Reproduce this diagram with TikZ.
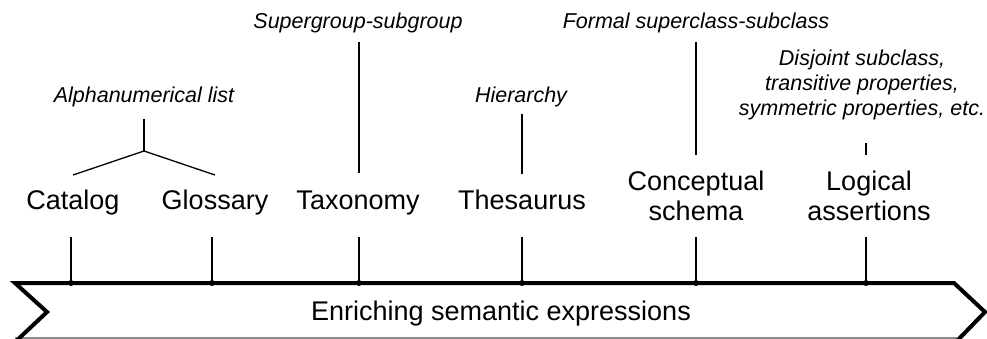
\documentclass[tikz,border=0pt]{standalone}
\usepackage{fontspec}
\setmainfont{Liberation Sans}
\begin{document}
\begin{tikzpicture}[x=1pt,y=-1pt,
  main/.style={font=\fontsize{27}{30}\selectfont, inner sep=0pt, anchor=base, align=center},
  note/.style={font=\fontsize{21.5}{25}\selectfont\itshape, inner sep=0pt, anchor=base, align=center},
  link/.style={line width=1.3pt, black},
  stemline/.style={line width=2pt, black},
  stemdot/.style={fill=black},
  band/.style={line width=4pt, black, line join=miter},
  bandbase/.style={line width=1.5pt, black!45}]
\useasboundingbox (0,0) rectangle (987,339);

% band
\draw[bandbase] (15,338) -- (957,338);
\draw[band] (13,344) -- (47,312) -- (15,283) -- (954,283) -- (985,312) -- (954,344);
\node[main] (band) at (501,320) {Enriching semantic expressions};

% main labels
\node[main] (catalog) at (73,209) {Catalog};
\node[main] (glossary) at (215,209) {Glossary};
\node[main] (taxonomy) at (358,209) {Taxonomy};
\node[main] (thesaurus) at (522,209) {Thesaurus};
\node[main] (concept) at (696,220) {Conceptual\\schema};
\node[main] (logical) at (869,220) {Logical\\assertions};

% notes
\node[note] (alpha) at (144,103) {Alphanumerical list};
\node[note] (super) at (358,29) {Supergroup-subgroup};
\node[note] (hier) at (521,103) {Hierarchy};
\node[note] (formal) at (696,29) {Formal superclass-subclass};
\node[note] (disj) at (862,116) {Disjoint subclass,\\transitive properties,\\symmetric properties, etc.};

% stems
\foreach \n/\x in {1/71,2/212,3/359,4/522,5/696,6/866}{
  \coordinate (st\n) at (\x,237);
  \coordinate (sb\n) at (\x,283);
  \draw[stemline] (st\n) -- (sb\n);
  \fill[stemdot] (sb\n) circle (3);
}

% upper connectors
\coordinate (a0) at (144,119);
\coordinate (a1) at (144,151);
\coordinate (a2) at (73,175);
\coordinate (a3) at (215,175);
\draw[link] (a0) -- (a1);
\draw[link] (a2) -- (a1) -- (a3);

\coordinate (t0) at (359,42);
\coordinate (t1) at (359,173);
\draw[link] (t0) -- (t1);

\coordinate (h0) at (522,114);
\coordinate (h1) at (522,174);
\draw[link] (h0) -- (h1);

\coordinate (c0) at (696,42);
\coordinate (c1) at (696,155);
\draw[link] (c0) -- (c1);

\coordinate (l0) at (866,143);
\coordinate (l1) at (866,155);
\draw[link] (l0) -- (l1);
\end{tikzpicture}
\end{document}
